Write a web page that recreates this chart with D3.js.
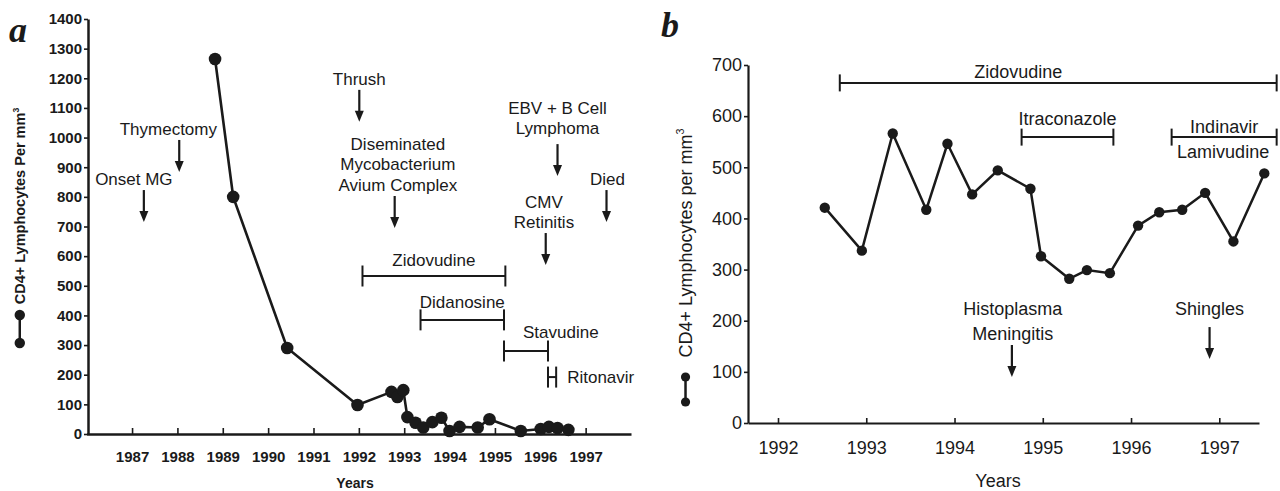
<!DOCTYPE html>
<html>
<head>
<meta charset="utf-8">
<script src="https://cdn.jsdelivr.net/npm/d3@7"></script>
<style>
  body { margin: 0; background: #fff; }
  svg { display: block; font-family: "Liberation Sans", Arial, Helvetica, sans-serif; }
</style>
</head>
<body>
<svg id="chart" width="1280" height="491"></svg>
<script>
// ---- panel a : CD4+ counts 1988-1996 ----
const aYears  = [1988.83, 1989.23, 1990.42, 1991.97, 1992.72, 1992.85, 1992.98, 1993.07, 1993.25, 1993.42,
                 1993.62, 1993.82, 1994.0, 1994.22, 1994.62, 1994.88, 1995.57, 1996.01, 1996.19, 1996.38, 1996.62];
const aCounts = [1265, 800, 290, 98, 142, 125, 148, 57, 38, 22, 40, 55, 10, 24, 22, 50, 10, 17, 24, 20, 14];
const aTicksX = [1987, 1988, 1989, 1990, 1991, 1992, 1993, 1994, 1995, 1996, 1997];
const aTicksY = [0, 100, 200, 300, 400, 500, 600, 700, 800, 900, 1000, 1100, 1200, 1300, 1400];
// events: text lines, year of arrow, year the text is centred on, arrow tip (count)
const aEvents = [
  { lines: ["Onset MG"], year: 1987.26, textYear: 1987.04, tip: 715 },
  { lines: ["Thymectomy"], year: 1988.04, textYear: 1987.8, tip: 884 },
  { lines: ["Thrush"], year: 1992.01, textYear: 1992.01, tip: 1053 },
  { lines: ["Diseminated", "Mycobacterium", "Avium Complex"], year: 1992.79, textYear: 1992.86, tip: 695 },
  { lines: ["EBV + B Cell", "Lymphoma"], year: 1996.38, textYear: 1996.38, tip: 870 },
  { lines: ["CMV", "Retinitis"], year: 1996.12, textYear: 1996.08, tip: 570 },
  { lines: ["Died"], year: 1997.46, textYear: 1997.48, tip: 715 }
];
const aDrugs = [
  { name: "Zidovudine", from: 1992.08, to: 1995.23, level: 533 },
  { name: "Didanosine", from: 1993.36, to: 1995.2, level: 385 },
  { name: "Stavudine", from: 1995.2, to: 1996.17, level: 280 },
  { name: "Ritonavir", from: 1996.17, to: 1996.35, level: 192 }
];

// ---- panel b : CD4+ counts 1992-1997 ----
const bYears  = [1992.53, 1992.95, 1993.30, 1993.68, 1993.92, 1994.20, 1994.49, 1994.86, 1994.98, 1995.30,
                 1995.50, 1995.76, 1996.08, 1996.32, 1996.58, 1996.84, 1997.16, 1997.51];
const bCounts = [421, 337, 566, 417, 546, 447, 494, 458, 326, 282, 299, 293, 386, 412, 417, 450, 355, 488];
const bTicksX = [1992, 1993, 1994, 1995, 1996, 1997];
const bTicksY = [0, 100, 200, 300, 400, 500, 600, 700];
const bEvents = [
  { lines: ["Histoplasma", "Meningitis"], year: 1994.65, textYear: 1994.66, tip: 90 },
  { lines: ["Shingles"], year: 1996.89, textYear: 1996.89, tip: 125 }
];
const bDrugs = [
  { name: "Zidovudine", from: 1992.70, to: 1997.65, level: 665 },
  { name: "Itraconazole", from: 1994.76, to: 1995.80, level: 559 },
  { name: "Indinavir", from: 1996.46, to: 1997.65, level: 559 }
];

// label placement for the drug bars (pixels)
const drugLabelLayout = {
  a: {
    Zidovudine: { dx: 0, dy: -10, anchor: "middle" },
    Didanosine: { dx: 0, dy: -12, anchor: "middle" },
    Stavudine: { dx: -3, dy: -13, anchor: "start", at: "mid" },
    Ritonavir: { dx: 11, dy: 6, anchor: "start", at: "end" }
  },
  b: {
    Zidovudine: { dx: -40, dy: -5, anchor: "middle" },
    Itraconazole: { dx: 0, dy: -12, anchor: "middle" },
    Indinavir: { dx: 0, dy: -4, anchor: "middle", below: "Lamivudine" }
  }
};
const arrowGap = { "EBV + B Cell": 10, "Shingles": 12 };

const ink = "#1a1a1a";
const svg = d3.select("#chart");

function styleAxis(g, size, weight, width) {
  g.select(".domain").attr("stroke", ink).attr("stroke-width", width);
  g.selectAll(".tick line").attr("stroke", ink).attr("stroke-width", 1.6);
  g.selectAll(".tick text").attr("fill", ink).style("font-size", size + "px").style("font-weight", weight)
    .style("font-family", '"Liberation Sans", Arial, sans-serif');
}

function drawEvents(g, events, x, y, fs, lh) {
  events.forEach(function (e) {
    const tip = y(e.tip);
    const ax = x(e.year);
    const gap = arrowGap[e.lines[0]] || 5;
    const base = tip - 32 - gap;
    e.lines.forEach(function (t, i) {
      g.append("text")
        .attr("x", x(e.textYear))
        .attr("y", base - (e.lines.length - 1 - i) * lh)
        .attr("text-anchor", "middle")
        .attr("fill", ink)
        .style("font-size", fs + "px")
        .text(t);
    });
    g.append("line")
      .attr("x1", ax).attr("x2", ax)
      .attr("y1", base + gap).attr("y2", tip - 8)
      .attr("stroke", ink).attr("stroke-width", 2.2);
    g.append("path")
      .attr("d", `M${ax},${tip} L${ax - 4.5},${tip - 11} L${ax + 4.5},${tip - 11} Z`)
      .attr("fill", ink);
  });
}

function drawDrugs(g, drugs, layout, x, y, fs, cap) {
  drugs.forEach(function (d) {
    const x0 = x(d.from), x1 = x(d.to), yy = y(d.level);
    g.append("line").attr("x1", x0).attr("x2", x1).attr("y1", yy).attr("y2", yy)
      .attr("stroke", ink).attr("stroke-width", 2);
    [x0, x1].forEach(function (xx) {
      g.append("line").attr("x1", xx).attr("x2", xx).attr("y1", yy - cap).attr("y2", yy + cap)
        .attr("stroke", ink).attr("stroke-width", 2);
    });
    const L = layout[d.name];
    let lx = (x0 + x1) / 2;
    if (L.at === "end") lx = x1;
    g.append("text")
      .attr("x", lx + L.dx).attr("y", yy + L.dy)
      .attr("text-anchor", L.anchor).attr("fill", ink)
      .style("font-size", fs + "px")
      .text(d.name);
    if (L.below) {
      g.append("text")
        .attr("x", (x0 + x1) / 2 - 1).attr("y", yy + 21)
        .attr("text-anchor", "middle").attr("fill", ink)
        .style("font-size", fs + "px")
        .text(L.below);
    }
  });
}

function yTitle(g, cx, cy, fs, weight, label, dotY, r) {
  g.append("text")
    .attr("transform", `translate(${cx},${cy}) rotate(-90)`)
    .attr("text-anchor", "middle").attr("fill", ink)
    .style("font-size", fs + "px").style("font-weight", weight)
    .text(label)
    .append("tspan").attr("dy", -fs * 0.42).style("font-size", (fs * 0.6) + "px").text("3");
  const lx = cx - fs * 0.36;
  g.append("line").attr("x1", lx).attr("x2", lx).attr("y1", dotY[0]).attr("y2", dotY[1])
    .attr("stroke", ink).attr("stroke-width", 2.5);
  g.selectAll(null).data(dotY).enter().append("circle")
    .attr("cx", lx).attr("cy", d => d).attr("r", r).attr("fill", ink);
}

// ================= panel a =================
const xA = d3.scaleLinear().domain([1986, 1998]).range([86.7, 631]);
const yA = d3.scaleLinear().domain([0, 1400]).range([434, 19]);
const gA = svg.append("g");

gA.append("g").attr("transform", `translate(0,${yA(0)})`)
  .call(d3.axisBottom(xA).tickValues(aTicksX).tickFormat(d3.format("d"))
    .tickSizeInner(-6).tickSizeOuter(0).tickPadding(17))
  .call(g => styleAxis(g, 15, "bold", 2.5));
gA.append("g").attr("transform", `translate(${xA(1986) + 1.3},0)`)
  .call(d3.axisLeft(yA).tickValues(aTicksY).tickFormat(d3.format("d"))
    .tickSizeInner(4).tickSizeOuter(0).tickPadding(2))
  .call(g => styleAxis(g, 15, "bold", 2.5));

const aPts = aYears.map((yr, i) => [yr, aCounts[i]]);
gA.append("path").datum(aPts)
  .attr("fill", "none").attr("stroke", ink).attr("stroke-width", 2.6)
  .attr("d", d3.line().x(d => xA(d[0])).y(d => yA(d[1])));
gA.selectAll(".dot").data(aPts).enter().append("circle")
  .attr("cx", d => xA(d[0])).attr("cy", d => yA(d[1])).attr("r", 6.3).attr("fill", ink);

drawEvents(gA, aEvents, xA, yA, 17, 20.5);
drawDrugs(gA, aDrugs, drugLabelLayout.a, xA, yA, 17, 10.5);

gA.append("text").attr("x", 355).attr("y", 488).attr("text-anchor", "middle").attr("fill", ink)
  .style("font-size", "14px").style("font-weight", "bold").text("Years");
yTitle(gA, 25, 206, 14.5, "bold", "CD4+ Lymphocytes Per mm", [315, 343], 5.2);
gA.append("text").attr("x", 9).attr("y", 42).attr("fill", ink)
  .style("font-family", '"Liberation Serif", "DejaVu Serif", serif')
  .style("font-style", "italic").style("font-weight", "bold").style("font-size", "36px").text("a");

// ================= panel b =================
const xB = d3.scaleLinear().domain([1991.66, 1997.45]).range([748, 1259]);
const yB = d3.scaleLinear().domain([0, 700]).range([423, 65]);
const gB = svg.append("g");

gB.append("g").attr("transform", `translate(0,${yB(0)})`)
  .call(d3.axisBottom(xB).tickValues(bTicksX).tickFormat(d3.format("d"))
    .tickSizeInner(-5).tickSizeOuter(0).tickPadding(18.5))
  .call(g => styleAxis(g, 18, "normal", 2.2));
gB.append("g").attr("transform", `translate(${xB(1991.66)},0)`)
  .call(d3.axisLeft(yB).tickValues(bTicksY).tickFormat(d3.format("d"))
    .tickSizeInner(4).tickSizeOuter(0).tickPadding(2))
  .call(g => styleAxis(g, 18, "normal", 2.2));

const bPts = bYears.map((yr, i) => [yr, bCounts[i]]);
gB.append("path").datum(bPts)
  .attr("fill", "none").attr("stroke", ink).attr("stroke-width", 2.5)
  .attr("d", d3.line().x(d => xB(d[0])).y(d => yB(d[1])));
gB.selectAll(".dot").data(bPts).enter().append("circle")
  .attr("cx", d => xB(d[0])).attr("cy", d => yB(d[1])).attr("r", 5.2).attr("fill", ink);

drawEvents(gB, bEvents, xB, yB, 18, 25);
drawDrugs(gB, bDrugs, drugLabelLayout.b, xB, yB, 18, 8.5);

gB.append("text").attr("x", 998).attr("y", 487).attr("text-anchor", "middle").attr("fill", ink)
  .style("font-size", "18px").text("Years");
yTitle(gB, 692, 243, 18, "normal", "CD4+ Lymphocytes per mm", [377, 402], 4.6);
gB.append("text").attr("x", 661).attr("y", 37).attr("fill", ink)
  .style("font-family", '"Liberation Serif", "DejaVu Serif", serif')
  .style("font-style", "italic").style("font-weight", "bold").style("font-size", "36px").text("b");
</script>
</body>
</html>
